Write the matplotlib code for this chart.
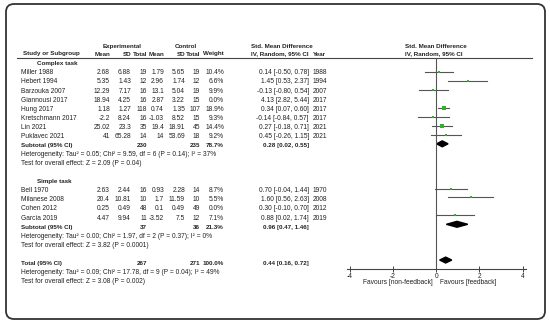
import matplotlib
matplotlib.use('Agg')
import matplotlib.pyplot as plt
from matplotlib.patches import FancyBboxPatch, Polygon

plt.rcParams['font.family'] = ['Liberation Sans', 'DejaVu Sans']

# ---- data: complex task ----
cx_study = ['Miller 1988', 'Hebert 1994', 'Barzouka 2007', 'Giannousi 2017', 'Hung 2017',
            'Kretschmann 2017', 'Lin 2021', 'Puklavec 2021']
cx_exp_mean = [2.68, 5.35, 12.29, 18.94, 1.18, -2.2, 25.02, 41]
cx_exp_sd = [6.88, 1.43, 7.17, 4.25, 1.27, 8.24, 23.3, 65.28]
cx_exp_n = [19, 12, 16, 16, 118, 16, 35, 14]
cx_ctl_mean = [1.79, 2.96, 13.1, 2.87, 0.74, -1.03, 19.4, 14]
cx_ctl_sd = [5.65, 1.74, 5.04, 3.22, 1.35, 8.52, 18.91, 53.69]
cx_ctl_n = [19, 12, 19, 15, 107, 15, 45, 18]
cx_weight = [10.4, 6.6, 9.9, 0.0, 18.9, 9.3, 14.4, 9.2]
cx_smd = [0.14, 1.45, -0.13, 4.13, 0.34, -0.14, 0.27, 0.45]
cx_lo = [-0.50, 0.53, -0.80, 2.82, 0.07, -0.84, -0.18, -0.26]
cx_hi = [0.78, 2.37, 0.54, 5.44, 0.60, 0.57, 0.71, 1.15]
cx_year = [1988, 1994, 2007, 2017, 2017, 2017, 2021, 2021]
cx_sub = (230, 235, 78.7, 0.28, 0.02, 0.55)
cx_het = 'Heterogeneity: Tau² = 0.05; Chi² = 9.59, df = 6 (P = 0.14); I² = 37%'
cx_test = 'Test for overall effect: Z = 2.09 (P = 0.04)'

# ---- data: simple task ----
sp_study = ['Bell 1970', 'Milanese 2008', 'Cohen 2012', 'García 2019']
sp_exp_mean = [2.63, 20.4, 0.25, 4.47]
sp_exp_sd = [2.44, 10.81, 0.49, 9.94]
sp_exp_n = [16, 10, 48, 11]
sp_ctl_mean = [0.93, 1.7, 0.1, -3.52]
sp_ctl_sd = [2.28, 11.59, 0.49, 7.5]
sp_ctl_n = [14, 10, 49, 12]
sp_weight = [8.7, 5.5, 0.0, 7.1]
sp_smd = [0.70, 1.60, 0.30, 0.88]
sp_lo = [-0.04, 0.56, -0.10, 0.02]
sp_hi = [1.44, 2.63, 0.70, 1.74]
sp_year = [1970, 2008, 2012, 2019]
sp_sub = (37, 36, 21.3, 0.96, 0.47, 1.46)
sp_het = 'Heterogeneity: Tau² = 0.00; Chi² = 1.97, df = 2 (P = 0.37); I² = 0%'
sp_test = 'Test for overall effect: Z = 3.82 (P = 0.0001)'

# ---- overall ----
tot = (267, 271, 100.0, 0.44, 0.16, 0.72)
tot_het = 'Heterogeneity: Tau² = 0.09; Chi² = 17.78, df = 9 (P = 0.04); I² = 49%'
tot_test = 'Test for overall effect: Z = 3.08 (P = 0.002)'

x_ticks = [-4, -2, 0, 2, 4]

FS = 4.8    # body text
FSH = 4.5   # bold header text
TC = '#222222'
GREEN = '#2fb02f'

fig = plt.figure(figsize=(5.5, 3.24), dpi=100)

# text layer in pixel coordinates
tx = fig.add_axes([0, 0, 1, 1])
tx.set_xlim(0, 550)
tx.set_ylim(324, 0)
tx.axis('off')

# forest plot axes
fx = fig.add_axes([347 / 550, 1 - 269 / 324, 179 / 550, 211 / 324])
fx.set_xlim(-4.12, 4.15)
fx.set_ylim(22.0, -1.6)
for s in ['top', 'left', 'right']:
    fx.spines[s].set_visible(False)
fx.spines['bottom'].set_color('#444444')
fx.spines['bottom'].set_linewidth(0.8)
fx.set_yticks([])
fx.set_xticks(x_ticks)
fx.set_xticklabels([str(t) for t in x_ticks], fontsize=FS, color=TC)
fx.tick_params(axis='x', direction='inout', length=4, width=0.7, color='#444444', pad=1)
fx.patch.set_alpha(0)
fx.axvline(0, color='#555555', lw=0.8)


def ty(k):
    return 72.9 + 9.07 * k


# column x positions (right aligned)
col_r = [110, 131, 147, 164, 185, 200, 224]
X_STUDY = 21
X_CI = 309
X_YEAR = 313


def txt(x, y, s, ha='left', bold=False, fs=FS):
    tx.text(x, y, s, ha=ha, va='center', fontsize=fs, color=TC,
            fontweight='bold' if bold else 'normal')


def num(v):
    return f'{v:g}'


def ci(e, lo, hi):
    return f'{e:.2f} [{lo:.2f}, {hi:.2f}]'


# headers
txt(122, 46.5, 'Experimental', ha='center', bold=True, fs=FSH)
txt(186, 46.5, 'Control', ha='center', bold=True, fs=FSH)
txt(282, 46.5, 'Std. Mean Difference', ha='center', bold=True, fs=FSH)
txt(436, 46.5, 'Std. Mean Difference', ha='center', bold=True, fs=FSH)
hy = 54
txt(23, hy, 'Study or Subgroup', bold=True, fs=FSH)
for x, h in zip(col_r, ['Mean', 'SD', 'Total', 'Mean', 'SD', 'Total', 'Weight']):
    txt(x, hy, h, ha='right', bold=True, fs=FSH)
txt(X_CI, hy, 'IV, Random, 95% CI', ha='right', bold=True, fs=FSH)
txt(X_YEAR, hy, 'Year', bold=True, fs=FSH)
txt(434, hy, 'IV, Random, 95% CI', ha='center', bold=True, fs=FSH)
tx.plot([17, 532], [57.8, 57.8], color='#444444', lw=0.8)


def summary(k, label, s):
    y = ty(k)
    txt(X_STUDY, y, label, bold=True, fs=FSH)
    txt(col_r[2], y, str(s[0]), ha='right', bold=True, fs=FSH)
    txt(col_r[5], y, str(s[1]), ha='right', bold=True, fs=FSH)
    txt(col_r[6], y, f'{s[2]:.1f}%', ha='right', bold=True, fs=FSH)
    txt(X_CI, y, ci(s[3], s[4], s[5]), ha='right', bold=True, fs=FSH)
    h = 0.33
    fx.add_patch(Polygon([(s[4], k), (s[3], k - h), (s[5], k), (s[3], k + h)],
                         closed=True, color='black'))


def group(k0, title, study, em, esd, en, cm, csd, cn, w, smd, lo, hi, yr, sub, het, test):
    txt(37, ty(k0 - 1), title, bold=True, fs=FSH)
    for i in range(len(study)):
        k = k0 + i
        y = ty(k)
        txt(X_STUDY, y, study[i])
        vals = [num(em[i]), num(esd[i]), str(en[i]), num(cm[i]), num(csd[i]), str(cn[i]),
                f'{w[i]:.1f}%']
        for x, v in zip(col_r, vals):
            txt(x, y, v, ha='right')
        txt(X_CI, y, ci(smd[i], lo[i], hi[i]), ha='right')
        txt(X_YEAR, y, str(yr[i]))
        if w[i] > 0:
            fx.plot([lo[i], hi[i]], [k, k], color='#555555', lw=0.8)
            fx.plot(smd[i], k, 's', color=GREEN, ms=0.62 * w[i] ** 0.5, mew=0)
    ks = k0 + len(study)
    summary(ks, 'Subtotal (95% CI)', sub)
    txt(X_STUDY, ty(ks + 1), het)
    txt(X_STUDY, ty(ks + 2), test)


group(0, 'Complex task', cx_study, cx_exp_mean, cx_exp_sd, cx_exp_n, cx_ctl_mean, cx_ctl_sd,
      cx_ctl_n, cx_weight, cx_smd, cx_lo, cx_hi, cx_year, cx_sub, cx_het, cx_test)
group(13, 'Simple task', sp_study, sp_exp_mean, sp_exp_sd, sp_exp_n, sp_ctl_mean, sp_ctl_sd,
      sp_ctl_n, sp_weight, sp_smd, sp_lo, sp_hi, sp_year, sp_sub, sp_het, sp_test)
summary(21, 'Total (95% CI)', tot)
txt(X_STUDY, ty(22), tot_het)
txt(X_STUDY, ty(23), tot_test)

# favours labels
trans = fx.get_xaxis_transform()
fx.text(-0.14, -0.066, 'Favours [non-feedback]', ha='right', va='center', fontsize=FS,
        color=TC, transform=trans)
fx.text(0.18, -0.066, 'Favours [feedback]', ha='left', va='center', fontsize=FS,
        color=TC, transform=trans)

# rounded frame
tx.add_patch(FancyBboxPatch((6, 4), 539, 315, boxstyle='round,pad=0,rounding_size=8',
                            fill=False, ec='#333333', lw=1.3))

fig.savefig('out.png', dpi=100)
